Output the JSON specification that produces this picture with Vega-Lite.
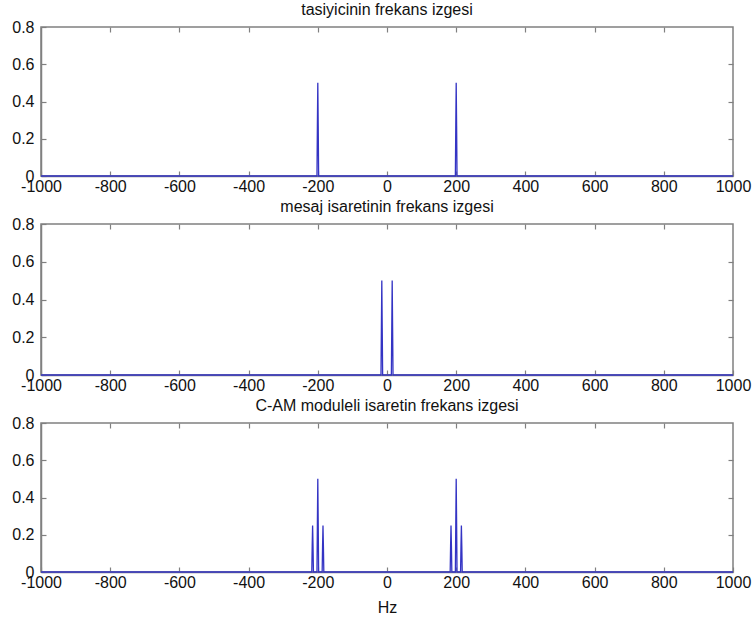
{
  "$schema": "https://vega.github.io/schema/vega-lite/v6.json",
  "padding": {"left": 11, "top": 1, "right": 10, "bottom": 0},
  "background": "white",
  "spacing": 3,
  "datasets": {
    "carrier": [
      {"f": -1000, "a": 0}, {"f": -202.4, "a": 0}, {"f": -201.2, "a": 0.27}, {"f": -200, "a": 0.5}, {"f": -198.8, "a": 0.27}, {"f": -197.6, "a": 0},
      {"f": 197.6, "a": 0}, {"f": 198.8, "a": 0.27}, {"f": 200, "a": 0.5}, {"f": 201.2, "a": 0.27}, {"f": 202.4, "a": 0}, {"f": 1000, "a": 0}
    ],
    "message": [
      {"f": -1000, "a": 0}, {"f": -17.4, "a": 0}, {"f": -16.2, "a": 0.25}, {"f": -15, "a": 0.5}, {"f": -13.8, "a": 0.25}, {"f": -12.6, "a": 0},
      {"f": 12.6, "a": 0}, {"f": 13.8, "a": 0.25}, {"f": 15, "a": 0.5}, {"f": 16.2, "a": 0.25}, {"f": 17.4, "a": 0}, {"f": 1000, "a": 0}
    ],
    "am": [
      {"f": -1000, "a": 0},
      {"f": -217.4, "a": 0}, {"f": -216.2, "a": 0.14}, {"f": -215, "a": 0.25}, {"f": -213.8, "a": 0.14}, {"f": -212.6, "a": 0},
      {"f": -202.4, "a": 0}, {"f": -201.2, "a": 0.26}, {"f": -200, "a": 0.5}, {"f": -198.8, "a": 0.26}, {"f": -197.6, "a": 0},
      {"f": -187.4, "a": 0}, {"f": -186.2, "a": 0.14}, {"f": -185, "a": 0.25}, {"f": -183.8, "a": 0.14}, {"f": -182.6, "a": 0},
      {"f": 182.6, "a": 0}, {"f": 183.8, "a": 0.14}, {"f": 185, "a": 0.25}, {"f": 186.2, "a": 0.14}, {"f": 187.4, "a": 0},
      {"f": 197.6, "a": 0}, {"f": 198.8, "a": 0.26}, {"f": 200, "a": 0.5}, {"f": 201.2, "a": 0.26}, {"f": 202.4, "a": 0},
      {"f": 212.6, "a": 0}, {"f": 213.8, "a": 0.14}, {"f": 215, "a": 0.25}, {"f": 216.2, "a": 0.14}, {"f": 217.4, "a": 0},
      {"f": 1000, "a": 0}
    ]
  },
  "config": {
    "font": "Liberation Sans",
    "view": {"stroke": "#808080", "strokeWidth": 1.5},
    "axis": {
      "grid": false,
      "domainColor": "#808080",
      "domainWidth": 1.5,
      "tickColor": "#808080",
      "tickWidth": 1.2,
      "tickSize": -5,
      "labelFont": "Liberation Sans",
      "labelFontSize": 16,
      "labelColor": "#111111",
      "titleFont": "Liberation Sans",
      "titleFontSize": 16,
      "titleFontWeight": "normal",
      "titleColor": "#111111"
    },
    "title": {"font": "Liberation Sans", "fontSize": 16, "fontWeight": "normal", "color": "#111111", "offset": 1}
  },
  "vconcat": [
    {
      "title": "tasiyicinin frekans izgesi",
      "width": 692, "height": 149,
      "data": {"name": "carrier"},
      "resolve": {"axis": {"x": "independent", "y": "independent"}},
      "layer": [
        {
          "mark": {"type": "line", "color": "#3434c4", "strokeWidth": 1.3},
          "encoding": {
            "x": {"field": "f", "type": "quantitative", "scale": {"domain": [-1000, 1000], "nice": false},
                  "axis": {"title": null, "values": [-1000, -800, -600, -400, -200, 0, 200, 400, 600, 800, 1000], "labelExpr": "'' + datum.value", "labelPadding": 7, "labelFlush": false}},
            "y": {"field": "a", "type": "quantitative", "scale": {"domain": [0, 0.8], "nice": false},
                  "axis": {"title": null, "values": [0, 0.2, 0.4, 0.6, 0.8], "labelExpr": "'' + datum.value", "labelPadding": 12}}
          }
        },
        {
          "mark": {"type": "line", "opacity": 0},
          "encoding": {
            "x": {"field": "f", "type": "quantitative", "axis": {"orient": "top", "title": null, "labels": false, "domain": false, "values": [-800, -600, -400, -200, 0, 200, 400, 600, 800]}},
            "y": {"field": "a", "type": "quantitative", "axis": {"orient": "right", "title": null, "labels": false, "domain": false, "values": [0.2, 0.4, 0.6]}}
          }
        }
      ]
    },
    {
      "title": "mesaj isaretinin frekans izgesi",
      "width": 692, "height": 151,
      "data": {"name": "message"},
      "resolve": {"axis": {"x": "independent", "y": "independent"}},
      "layer": [
        {
          "mark": {"type": "line", "color": "#3434c4", "strokeWidth": 1.3},
          "encoding": {
            "x": {"field": "f", "type": "quantitative", "scale": {"domain": [-1000, 1000], "nice": false},
                  "axis": {"title": null, "values": [-1000, -800, -600, -400, -200, 0, 200, 400, 600, 800, 1000], "labelExpr": "'' + datum.value", "labelPadding": 7, "labelFlush": false}},
            "y": {"field": "a", "type": "quantitative", "scale": {"domain": [0, 0.8], "nice": false},
                  "axis": {"title": null, "values": [0, 0.2, 0.4, 0.6, 0.8], "labelExpr": "'' + datum.value", "labelPadding": 12}}
          }
        },
        {
          "mark": {"type": "line", "opacity": 0},
          "encoding": {
            "x": {"field": "f", "type": "quantitative", "axis": {"orient": "top", "title": null, "labels": false, "domain": false, "values": [-800, -600, -400, -200, 0, 200, 400, 600, 800]}},
            "y": {"field": "a", "type": "quantitative", "axis": {"orient": "right", "title": null, "labels": false, "domain": false, "values": [0.2, 0.4, 0.6]}}
          }
        }
      ]
    },
    {
      "title": "C-AM moduleli isaretin frekans izgesi",
      "width": 692, "height": 149,
      "data": {"name": "am"},
      "resolve": {"axis": {"x": "independent", "y": "independent"}},
      "layer": [
        {
          "mark": {"type": "line", "color": "#3434c4", "strokeWidth": 1.3},
          "encoding": {
            "x": {"field": "f", "type": "quantitative", "scale": {"domain": [-1000, 1000], "nice": false},
                  "axis": {"title": "Hz", "titlePadding": 9, "values": [-1000, -800, -600, -400, -200, 0, 200, 400, 600, 800, 1000], "labelExpr": "'' + datum.value", "labelPadding": 7, "labelFlush": false}},
            "y": {"field": "a", "type": "quantitative", "scale": {"domain": [0, 0.8], "nice": false},
                  "axis": {"title": null, "values": [0, 0.2, 0.4, 0.6, 0.8], "labelExpr": "'' + datum.value", "labelPadding": 12}}
          }
        },
        {
          "mark": {"type": "line", "opacity": 0},
          "encoding": {
            "x": {"field": "f", "type": "quantitative", "axis": {"orient": "top", "title": null, "labels": false, "domain": false, "values": [-800, -600, -400, -200, 0, 200, 400, 600, 800]}},
            "y": {"field": "a", "type": "quantitative", "axis": {"orient": "right", "title": null, "labels": false, "domain": false, "values": [0.2, 0.4, 0.6]}}
          }
        }
      ]
    }
  ]
}
